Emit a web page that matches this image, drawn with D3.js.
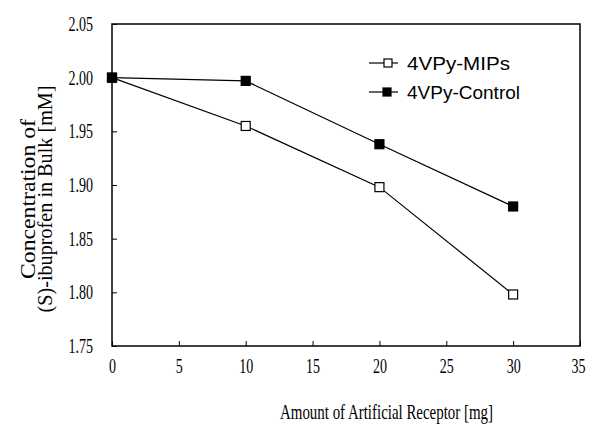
<!DOCTYPE html>
<html><head><meta charset="utf-8">
<script src="https://cdn.jsdelivr.net/npm/d3@7"></script>
<style>body{margin:0;background:#fff}</style>
</head><body>
<script>
const xValues = [0, 10, 20, 30];
const mipsValues = [2.000, 1.955, 1.898, 1.798];
const controlValues = [2.000, 1.997, 1.938, 1.880];
const xTicks = [0, 5, 10, 15, 20, 25, 30, 35];
const yTicks = [1.75, 1.80, 1.85, 1.90, 1.95, 2.00, 2.05];
const seriesNames = ["4VPy-MIPs", "4VPy-Control"];

const W = 590, H = 426;
const m = {left: 112, right: 10, top: 24, bottom: 80};
const svg = d3.select("body").append("svg").attr("width", W).attr("height", H);
const x = d3.scaleLinear().domain([0, 35]).range([m.left, W - m.right]);
const y = d3.scaleLinear().domain([1.75, 2.05]).range([H - m.bottom, m.top]);

const serif = "'Liberation Serif','Times New Roman',serif";
const sans = "'Liberation Sans',Arial,sans-serif";
function condense(sel, f) {
  sel.each(function() {
    const w = this.getComputedTextLength();
    d3.select(this).attr("textLength", w * f).attr("lengthAdjust", "spacingAndGlyphs");
  });
}

// frame
svg.append("rect").attr("x", m.left).attr("y", m.top)
  .attr("width", W - m.right - m.left).attr("height", H - m.bottom - m.top)
  .attr("fill", "none").attr("stroke", "#000").attr("stroke-width", 1.5);

const xAxis = svg.append("g").attr("transform", `translate(0,${H - m.bottom})`)
  .call(d3.axisBottom(x).tickValues(xTicks).tickSize(-5).tickPadding(13).tickFormat(d3.format("d")));
const yAxis = svg.append("g").attr("transform", `translate(${m.left},0)`)
  .call(d3.axisLeft(y).tickValues(yTicks).tickSize(-5).tickPadding(19).tickFormat(d3.format(".2f")));
[xAxis, yAxis].forEach(g => {
  g.attr("font-family", null).attr("font-size", null);
  g.select(".domain").remove();
  g.selectAll("line").attr("stroke", "#000");
  g.selectAll("text").style("font-family", serif).style("font-size", "20px").attr("fill", "#000");
  condense(g.selectAll("text"), 0.7);
});
xAxis.selectAll(".tick").filter(d => d === 35).select("text").attr("x", -2);

const line = d3.line().x(d => x(d[0])).y(d => y(d[1]));
const series = [
  {name: seriesNames[0], vals: mipsValues, fill: "#fff", len: 103},
  {name: seriesNames[1], vals: controlValues, fill: "#000", len: 113}
];
series.forEach(s => {
  const pts = xValues.map((v, i) => [v, s.vals[i]]);
  svg.append("path").attr("d", line(pts)).attr("fill", "none").attr("stroke", "#000").attr("stroke-width", 1.2);
  svg.selectAll(null).data(pts).enter().append("rect")
    .attr("x", d => x(d[0]) - 4.5).attr("y", d => y(d[1]) - 4.5)
    .attr("width", 9).attr("height", 9)
    .attr("fill", s.fill).attr("stroke", "#000").attr("stroke-width", 1.2);
});

// legend
const lg = svg.append("g");
series.forEach((s, i) => {
  const ly = 63 + i * 29;
  lg.append("line").attr("x1", 369).attr("x2", 398).attr("y1", ly).attr("y2", ly).attr("stroke", "#000").attr("stroke-width", 1.2);
  lg.append("rect").attr("x", 384 - (i ? 1 : 0)).attr("y", ly - 4).attr("width", 8).attr("height", 8)
    .attr("fill", s.fill).attr("stroke", "#000").attr("stroke-width", 1.2);
  lg.append("text").attr("x", 407).attr("y", ly + 6.5).text(s.name)
    .style("font-family", sans).style("font-size", "18px").attr("fill", "#000")
    .attr("textLength", s.len).attr("lengthAdjust", "spacingAndGlyphs");
});

// axis titles
svg.append("text").attr("x", 280).attr("y", 419)
  .style("font-family", serif).style("font-size", "21px")
  .attr("textLength", 213).attr("lengthAdjust", "spacingAndGlyphs")
  .text("Amount of Artificial Receptor [mg]");
const yt = svg.append("g").attr("transform", "translate(0,199) rotate(-90)");
yt.append("text").attr("x", 0).attr("y", 35).attr("text-anchor", "middle")
  .style("font-family", serif).style("font-size", "20px")
  .attr("textLength", 160).attr("lengthAdjust", "spacingAndGlyphs")
  .text("Concentration of");
yt.append("text").attr("x", 0).attr("y", 52).attr("text-anchor", "middle")
  .style("font-family", serif).style("font-size", "20px")
  .attr("textLength", 227).attr("lengthAdjust", "spacingAndGlyphs")
  .text("(S)-ibuprofen in Bulk [mM]");
</script>
</body></html>
